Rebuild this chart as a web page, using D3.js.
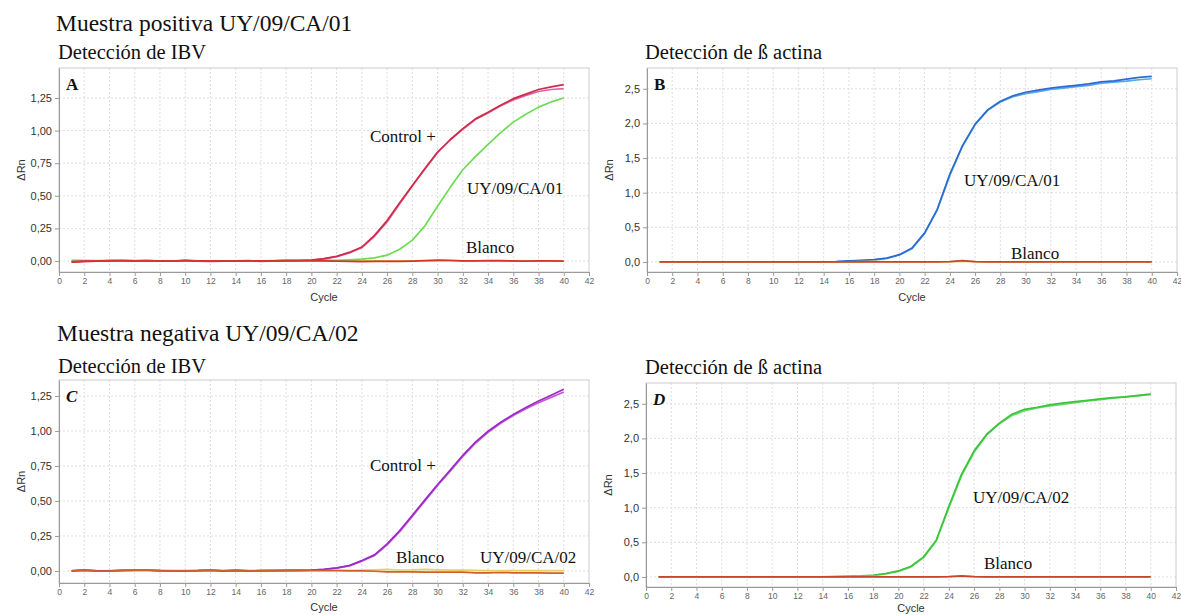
<!DOCTYPE html>
<html>
<head>
<meta charset="utf-8">
<script src="https://cdn.jsdelivr.net/npm/d3@7/dist/d3.min.js"></script>
<style>
body { margin: 0; background: #fff; }
</style>
</head>
<body>
<script>
const WIDTH = 1181;
const HEIGHT = 615;

// cycle numbers shared by every curve
const cycles = [1,2,3,4,5,6,7,8,9,10,11,12,13,14,15,16,17,18,19,20,
                21,22,23,24,25,26,27,28,29,30,31,32,33,34,35,36,37,38,39,40];

const xTicks = [0,2,4,6,8,10,12,14,16,18,20,22,24,26,28,30,32,34,36,38,40,42];
const yTicksIBV = [0, 0.25, 0.5, 0.75, 1, 1.25];
const yLabelsIBV = ["0,00", "0,25", "0,50", "0,75", "1,00", "1,25"];
const yTicksActin = [0, 0.5, 1, 1.5, 2, 2.5];
const yLabelsActin = ["0,0", "0,5", "1,0", "1,5", "2,0", "2,5"];

// A - IBV, muestra positiva
const aControl1 = [-0.008,-0.003,0.000,0.002,0.003,0.002,0.003,0.000,0.000,0.004,
                   0.000,-0.002,0.000,0.000,0.002,-0.001,0.002,0.004,0.004,0.008,
                   0.018,0.036,0.066,0.107,0.197,0.31,0.447,0.58,0.71,0.836,
                   0.93,1.015,1.09,1.14,1.195,1.245,1.28,1.315,1.335,1.353];
const aControl2 = [-0.005,0.000,0.002,0.003,0.004,0.003,0.002,0.001,0.001,0.003,
                   0.001,0.000,0.001,0.001,0.001,0.000,0.002,0.003,0.005,0.008,
                   0.017,0.034,0.062,0.102,0.19,0.30,0.44,0.575,0.705,0.83,
                   0.93,1.01,1.085,1.135,1.19,1.235,1.27,1.30,1.315,1.322];
const aSample = [0.004,0.003,0.002,0.002,0.002,0.002,0.002,0.002,0.001,0.001,
                 0.001,0.001,0.001,0.001,0.001,0.002,0.002,0.003,0.003,0.004,
                 0.005,0.006,0.009,0.014,0.024,0.045,0.09,0.16,0.27,0.42,
                 0.565,0.70,0.80,0.895,0.985,1.065,1.125,1.18,1.22,1.25];
const aBlank1 = [-0.006,-0.002,0.000,0.003,0.004,0.002,0.004,0.001,-0.001,0.006,
                 0.002,-0.001,-0.001,0.001,0.004,-0.002,0.001,0.003,0.002,0.001,
                 0.002,0.000,-0.002,-0.004,-0.003,-0.002,-0.002,0.000,0.004,0.007,
                 0.006,0.002,0.001,0.004,0.003,0.001,0.000,0.002,0.001,0.000];
const aBlank2 = [0.006,0.004,0.003,0.003,0.002,0.002,0.002,0.002,0.001,0.001,
                 0.001,0.000,0.000,0.001,0.001,0.002,0.003,0.004,0.004,0.004,
                 0.003,0.002,0.001,0.000,0.000,-0.001,-0.001,0.000,0.000,0.001,
                 0.001,0.000,0.000,0.000,0.000,0.000,0.000,0.000,0.000,0.000];

// B - beta actina, muestra positiva
const bSample1 = [0,0,0,0,0,0,0,0,0,0,
                  0,0,0,0.002,0.006,0.015,0.022,0.033,0.056,0.105,
                  0.20,0.42,0.76,1.27,1.68,1.99,2.195,2.32,2.40,2.45,
                  2.48,2.51,2.53,2.55,2.57,2.60,2.615,2.64,2.665,2.68];
const bSample2 = [0,0,0,0,0,0,0,0,0,0,
                  0,0,0,0.002,0.005,0.014,0.020,0.030,0.052,0.10,
                  0.19,0.41,0.75,1.25,1.67,1.98,2.19,2.31,2.385,2.43,
                  2.46,2.49,2.51,2.53,2.55,2.58,2.595,2.61,2.63,2.645];
const bBlank1 = [0,0,0,0,0,0,0,0,0,0,
                 0,0,0,0,0,0,0,0,0,0,
                 0,0,0,0.004,0.018,0.004,0,0,0,0,
                 0,0,0,0,0,0,0,0,0,0];
const bBlank2 = [0,0,0,0,0,0,0,0,0,0,
                 0,0,0,0,0,0,0.004,0.010,0.003,0,
                 0,0,0,0.003,0.010,0.003,0,0,0,0,
                 0,0,0,0,0,0,0,0,0,0];

// C - IBV, muestra negativa
const cControl1 = [0.000,0.006,0.000,0.000,0.004,0.005,0.005,0.002,0.001,0.001,
                   0.002,0.005,0.001,0.004,0.001,0.002,0.003,0.004,0.004,0.006,
                   0.012,0.022,0.038,0.074,0.115,0.193,0.288,0.398,0.508,0.618,
                   0.72,0.826,0.92,0.998,1.062,1.118,1.167,1.214,1.255,1.298];
const cControl2 = [0.000,0.004,0.000,0.000,0.003,0.004,0.004,0.002,0.001,0.001,
                   0.002,0.004,0.001,0.003,0.001,0.002,0.003,0.003,0.004,0.005,
                   0.011,0.020,0.036,0.070,0.110,0.186,0.280,0.390,0.500,0.610,
                   0.712,0.818,0.912,0.990,1.055,1.110,1.158,1.202,1.240,1.278];
const cBlank = [0.000,0.007,0.000,-0.001,0.005,0.006,0.007,0.001,0.000,0.001,
                0.002,0.006,0.000,0.005,0.000,0.001,0.002,0.002,0.002,0.002,
                0.002,0.002,0.001,0.000,-0.002,-0.006,-0.007,-0.007,-0.008,-0.008,
                -0.008,-0.009,-0.013,-0.014,-0.011,-0.013,-0.014,-0.014,-0.015,-0.015];
const cSample = [0.003,0.004,0.003,0.002,0.003,0.003,0.004,0.004,0.004,0.004,
                 0.004,0.004,0.004,0.004,0.004,0.005,0.006,0.007,0.007,0.006,
                 0.006,0.005,0.005,0.006,0.008,0.011,0.007,0.008,0.011,0.008,
                 0.006,0.006,0.004,0.003,0.003,0.003,0.003,0.003,0.003,0.003];

// D - beta actina, muestra negativa
const dSample1 = [0,0,0,0,0,0,0,0,0,0,
                  0,0,0,0,0.005,0.010,0.015,0.025,0.050,0.087,
                  0.155,0.29,0.53,1.02,1.48,1.82,2.06,2.22,2.35,2.42,
                  2.45,2.485,2.51,2.53,2.55,2.57,2.59,2.60,2.62,2.64];
const dSample2 = [0,0,0,0,0,0,0,0,0,0,
                  0,0,0,0,0.004,0.009,0.013,0.022,0.045,0.080,
                  0.145,0.28,0.52,1.00,1.46,1.80,2.05,2.21,2.33,2.40,
                  2.44,2.47,2.49,2.515,2.54,2.56,2.58,2.60,2.615,2.635];
const dBlank1 = [0,0,0,0,0,0,0,0,0,0,
                 0,0,0,0,0,0,0,0,0,0,
                 0,0,0,0.004,0.016,0.004,0,0,0,0,
                 0,0,0,0,0,0,0,0,0,0];
const dBlank2 = [0,0,0,0,0,0,0,0,0,0,
                 0,0,0,0,0,0,0.004,0.010,0.003,0,
                 0,0,0,0.003,0.010,0.003,0,0,0,0,
                 0,0,0,0,0,0,0,0,0,0];

const SERIF = "'Liberation Serif', 'Times New Roman', serif";
const SANS = "'Liberation Sans', Arial, sans-serif";

const svg = d3.select("body")
    .append("svg")
    .attr("width", WIDTH)
    .attr("height", HEIGHT);

// headings above the panels
const headings = [
    {text: "Muestra positiva UY/09/CA/01", x: 56, y: 31, size: 23.5},
    {text: "Detección de IBV", x: 58, y: 59, size: 20.5},
    {text: "Detección de ß actina", x: 645, y: 59, size: 20.5},
    {text: "Muestra negativa UY/09/CA/02", x: 57, y: 341, size: 23.5},
    {text: "Detección de IBV", x: 58, y: 373, size: 20.5},
    {text: "Detección de ß actina", x: 645, y: 374, size: 20.5}
];

svg.selectAll("text.heading")
    .data(headings)
    .enter()
    .append("text")
    .attr("class", "heading")
    .attr("x", d => d.x)
    .attr("y", d => d.y)
    .attr("font-family", SERIF)
    .attr("font-size", d => d.size + "px")
    .attr("fill", "#111")
    .text(d => d.text);

const drawPanel = (p) => {
    const xScale = d3.scaleLinear().domain([0, 42]).range([p.left, p.right]);
    const yScale = d3.scaleLinear().domain(p.yDomain).range([p.bottom, p.top]);

    const g = svg.append("g");

    // dashed grid
    g.selectAll("line.vgrid")
        .data(xTicks.slice(1, -1))
        .enter()
        .append("line")
        .attr("x1", d => xScale(d))
        .attr("x2", d => xScale(d))
        .attr("y1", p.top)
        .attr("y2", p.bottom)
        .attr("stroke", "#dedede")
        .attr("stroke-dasharray", "2,2");

    g.selectAll("line.hgrid")
        .data(p.yTicks)
        .enter()
        .append("line")
        .attr("x1", p.left)
        .attr("x2", p.right)
        .attr("y1", d => yScale(d))
        .attr("y2", d => yScale(d))
        .attr("stroke", "#dedede")
        .attr("stroke-dasharray", "2,2");

    // frame
    g.append("rect")
        .attr("x", p.left)
        .attr("y", p.top)
        .attr("width", p.right - p.left)
        .attr("height", p.bottom - p.top)
        .attr("fill", "none")
        .attr("stroke", "#cccccc");

    const xAxis = d3.axisBottom(xScale)
        .tickValues(xTicks)
        .tickSize(4)
        .tickSizeOuter(0);

    const yAxis = d3.axisLeft(yScale)
        .tickValues(p.yTicks)
        .tickFormat((d, i) => p.yLabels[i])
        .tickSize(4)
        .tickSizeOuter(0);

    const gx = g.append("g")
        .attr("transform", "translate(0," + p.bottom + ")")
        .call(xAxis);
    gx.select(".domain").attr("stroke", "#9a9a9a");
    gx.selectAll(".tick line").attr("stroke", "#9a9a9a");
    gx.selectAll(".tick text")
        .attr("font-family", SANS)
        .attr("font-size", "8.5px")
        .attr("fill", "#666")
        .attr("dy", "0.6em");

    const gy = g.append("g")
        .attr("transform", "translate(" + p.left + ",0)")
        .call(yAxis);
    gy.select(".domain").attr("stroke", "#9a9a9a");
    gy.selectAll(".tick line").attr("stroke", "#9a9a9a");
    gy.selectAll(".tick text")
        .attr("font-family", SANS)
        .attr("font-size", "11px")
        .attr("fill", "#333");

    // axis titles
    g.append("text")
        .attr("x", (p.left + p.right) / 2)
        .attr("y", p.bottom + p.cycleGap)
        .attr("text-anchor", "middle")
        .attr("font-family", SANS)
        .attr("font-size", "11px")
        .attr("fill", "#333")
        .text("Cycle");

    g.append("text")
        .attr("transform", "translate(" + (p.left - 34) + "," + ((p.top + p.bottom) / 2) + ") rotate(-90)")
        .attr("text-anchor", "middle")
        .attr("font-family", SANS)
        .attr("font-size", "11px")
        .attr("fill", "#333")
        .text("ΔRn");

    // amplification curves (straight segments between cycles)
    const line = d3.line()
        .x((d, i) => xScale(cycles[i]))
        .y(d => yScale(d));

    p.series.forEach(s => {
        g.append("path")
            .attr("d", line(s.values))
            .attr("fill", "none")
            .attr("stroke", s.color)
            .attr("stroke-width", 1.7)
            .attr("stroke-linejoin", "round");
    });

    // panel letter
    g.append("text")
        .attr("x", p.left + 7)
        .attr("y", p.top + 22)
        .attr("font-family", SERIF)
        .attr("font-size", "17px")
        .attr("font-weight", "bold")
        .attr("font-style", p.italic ? "italic" : "normal")
        .attr("fill", "#111")
        .text(p.letter);

    // curve labels
    g.selectAll("text.note")
        .data(p.notes)
        .enter()
        .append("text")
        .attr("class", "note")
        .attr("x", d => d.x)
        .attr("y", d => d.y)
        .attr("font-family", SERIF)
        .attr("font-size", "17px")
        .attr("fill", "#111")
        .text(d => d.text);
};

drawPanel({
    left: 59, right: 589, top: 68, bottom: 272, cycleGap: 29,
    yDomain: [-0.084, 1.48], yTicks: yTicksIBV, yLabels: yLabelsIBV,
    letter: "A", italic: false,
    series: [
        {values: aBlank2, color: "#c9b62c"},
        {values: aSample, color: "#6cdc52"},
        {values: aControl2, color: "#e062ac"},
        {values: aControl1, color: "#cf2d45"},
        {values: aBlank1, color: "#d4362c"}
    ],
    notes: [
        {text: "Control +", x: 370, y: 142},
        {text: "UY/09/CA/01", x: 467, y: 194},
        {text: "Blanco", x: 466, y: 253}
    ]
});

drawPanel({
    left: 647, right: 1177, top: 68, bottom: 272, cycleGap: 29,
    yDomain: [-0.145, 2.80], yTicks: yTicksActin, yLabels: yLabelsActin,
    letter: "B", italic: false,
    series: [
        {values: bSample2, color: "#4eaae8"},
        {values: bSample1, color: "#2f6bcf"},
        {values: bBlank2, color: "#e8c030"},
        {values: bBlank1, color: "#c9462c"}
    ],
    notes: [
        {text: "UY/09/CA/01", x: 964, y: 186},
        {text: "Blanco", x: 1011, y: 259}
    ]
});

drawPanel({
    left: 59, right: 589, top: 380, bottom: 583, cycleGap: 28,
    yDomain: [-0.086, 1.364], yTicks: yTicksIBV, yLabels: yLabelsIBV,
    letter: "C", italic: true,
    series: [
        {values: cSample, color: "#e8cf60"},
        {values: cControl2, color: "#c85ad8"},
        {values: cControl1, color: "#9a2cc6"},
        {values: cBlank, color: "#d0602a"}
    ],
    notes: [
        {text: "Control +", x: 370, y: 471},
        {text: "Blanco", x: 396, y: 563},
        {text: "UY/09/CA/02", x: 480, y: 563}
    ]
});

drawPanel({
    left: 646, right: 1176, top: 383, bottom: 587, cycleGap: 25,
    yDomain: [-0.145, 2.80], yTicks: yTicksActin, yLabels: yLabelsActin,
    letter: "D", italic: true,
    series: [
        {values: dSample2, color: "#6ad86a"},
        {values: dSample1, color: "#3cc43c"},
        {values: dBlank2, color: "#e8c030"},
        {values: dBlank1, color: "#c9462c"}
    ],
    notes: [
        {text: "UY/09/CA/02", x: 973, y: 503},
        {text: "Blanco", x: 984, y: 569}
    ]
});
</script>
</body>
</html>
